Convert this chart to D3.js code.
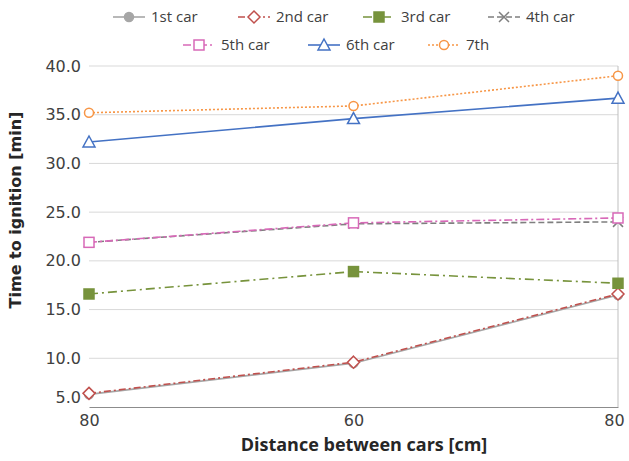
<!DOCTYPE html>
<html><head><meta charset="utf-8">
<script src="https://cdn.jsdelivr.net/npm/d3@7"></script>
<style>body{margin:0;background:#fff}</style>
</head><body>
<svg id="c" width="629" height="461"></svg>
<script>
const categories = ["80", "60", "80"];
const yTicks = [5, 10, 15, 20, 25, 30, 35, 40];
const seriesNames = ["1st car", "2nd car", "3rd car", "4th car", "5th car", "6th car", "7th"];
const car1 = [6.3, 9.5, 16.5];
const car2 = [6.4, 9.6, 16.6];
const car3 = [16.6, 18.9, 17.7];
const car4 = [21.9, 23.8, 24.0];
const car5 = [21.9, 23.9, 24.4];
const car6 = [32.2, 34.6, 36.7];
const car7 = [35.2, 35.9, 39.0];

const seriesValues = [car1, car2, car3, car4, car5, car6, car7];
const styles = [
  {color:"#a6a6a6", dash:null, marker:"circle", fill:"#a6a6a6"},
  {color:"#c0504d", dash:"7,3,2,3", marker:"diamond", fill:"#fff"},
  {color:"#77933c", dash:"9,4,2,4", marker:"square", fill:"#77933c"},
  {color:"#7f7f7f", dash:"6,3", marker:"x", fill:"none"},
  {color:"#d869b8", dash:"8,3,2,3", marker:"square", fill:"#fff"},
  {color:"#4472c4", dash:null, marker:"triangle", fill:"#fff"},
  {color:"#f79646", dash:"2,2", marker:"circle", fill:"#fff"}
];

const svg = d3.select("#c");
const m = {l: 89, r: 11, t: 66, b: 54};
const W = 629, H = 461;
const x = d3.scalePoint().domain(d3.range(categories.length)).range([m.l, W - m.r]).padding(0);
const y = d3.scaleLinear().domain([5, 40]).range([H - m.b, m.t]);

// gridlines
svg.append("g").selectAll("line").data(yTicks.filter(d => d > 5)).join("line")
  .attr("x1", m.l).attr("x2", W - m.r)
  .attr("y1", d => y(d)).attr("y2", d => y(d))
  .attr("stroke", "#d9d9d9").attr("stroke-width", 1);
// right border
svg.append("line").attr("x1", W - m.r).attr("x2", W - m.r).attr("y1", y(40)).attr("y2", y(5))
  .attr("stroke", "#bfbfbf");

// y axis labels
const yAxis = d3.axisLeft(y).tickValues(yTicks).tickFormat(d3.format(".1f")).tickSize(0).tickPadding(8);
const ya = svg.append("g").attr("transform", `translate(${m.l},0)`).call(yAxis);
ya.select(".domain").remove();
ya.selectAll("text").attr("font-family", "DejaVu Sans").attr("font-size", 16).attr("fill", "#404040");
ya.selectAll(".tick").filter(d => d === 5).select("text").attr("dy", "-0.3em");

// x axis
const xAxis = d3.axisBottom(x).tickFormat(i => categories[i]).tickSize(0).tickPadding(8);
const xa = svg.append("g").attr("transform", `translate(0,${y(5)})`).call(xAxis);
xa.select(".domain").attr("stroke", "#8c8c8c");
xa.selectAll("text").attr("font-family", "DejaVu Sans").attr("font-size", 16).attr("fill", "#404040");
xa.selectAll(".tick").filter(i => i === categories.length - 1).select("text").attr("dx", -4);

// axis titles
svg.append("text").attr("x", 364).attr("y", 451).attr("text-anchor", "middle")
  .attr("font-family", "Open Sans").attr("font-weight", "bold").attr("font-size", 18).attr("fill", "#262626")
  .text("Distance between cars [cm]");
svg.append("text").attr("transform", `translate(21,210) rotate(-90)`).attr("text-anchor", "middle")
  .attr("font-family", "DejaVu Sans").attr("font-weight", "bold").attr("font-size", 16).attr("fill", "#262626")
  .text("Time to ignition [min]");

function drawMarker(g, type, cx, cy, s) {
  const sz = 5;
  if (type === "circle") g.append("circle").attr("cx", cx).attr("cy", cy).attr("r", 4.5);
  else if (type === "square") g.append("rect").attr("x", cx - sz).attr("y", cy - sz).attr("width", 2 * sz).attr("height", 2 * sz);
  else if (type === "diamond") g.append("path").attr("d", `M${cx},${cy - 6}L${cx + 6},${cy}L${cx},${cy + 6}L${cx - 6},${cy}Z`);
  else if (type === "triangle") g.append("path").attr("d", `M${cx},${cy - 6}L${cx + 6},${cy + 5}L${cx - 6},${cy + 5}Z`);
  else if (type === "x") g.append("path").attr("d", `M${cx - 5},${cy - 5}L${cx + 5},${cy + 5}M${cx - 5},${cy + 5}L${cx + 5},${cy - 5}`);
  g.selectAll("*").attr("stroke", s.color).attr("stroke-width", 1.5).attr("fill", s.fill);
}

const line = d3.line().x((d, i) => x(i)).y(d => y(d));
seriesValues.forEach((vals, k) => {
  const s = styles[k];
  const g = svg.append("g");
  g.append("path").attr("d", line(vals)).attr("fill", "none").attr("stroke", s.color)
    .attr("stroke-width", 1.6).attr("stroke-dasharray", s.dash);
  vals.forEach((v, i) => drawMarker(g.append("g"), s.marker, x(i), y(v), s));
});

// legend
const legendPos = [[113, 17], [238, 17], [363, 17], [488, 17], [183, 45], [308, 45], [428, 45]];
seriesNames.forEach((name, k) => {
  const s = styles[k];
  const [lx, ly] = legendPos[k];
  const g = svg.append("g");
  g.append("line").attr("x1", lx).attr("x2", lx + 32).attr("y1", ly).attr("y2", ly)
    .attr("stroke", s.color).attr("stroke-width", 1.6).attr("stroke-dasharray", s.dash);
  drawMarker(g.append("g"), s.marker, lx + 16, ly, s);
  g.append("text").attr("x", lx + 38).attr("y", ly + 5).attr("font-family", "Open Sans").attr("font-size", 15)
    .attr("fill", "#404040").text(name);
});
</script>
</body></html>
